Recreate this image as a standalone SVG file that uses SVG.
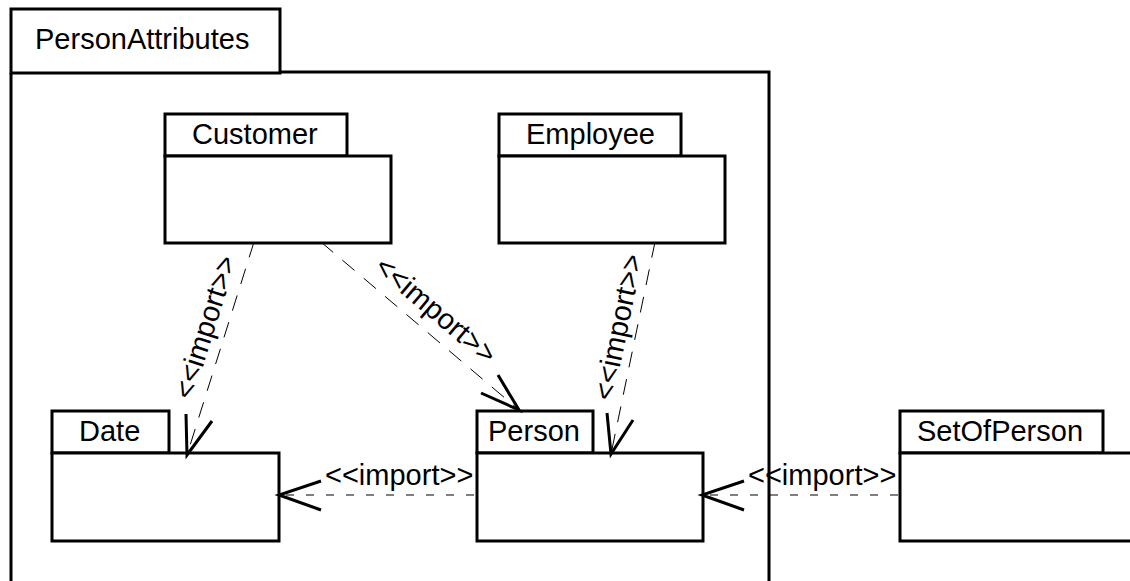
<svg xmlns="http://www.w3.org/2000/svg" width="1130" height="581" viewBox="0 0 1130 581">
<style>
  .box { fill: #ffffff; stroke: #000000; stroke-width: 3; }
  .frame { fill: none; stroke: #000000; stroke-width: 3; }
  .lbl { font-family: "Liberation Sans", Arial, sans-serif; font-size: 29px; fill: #000000; }
  .dash { fill: none; stroke: #000000; stroke-width: 1; stroke-dasharray: 16,12; }
  .hdash { fill: none; stroke: #000000; stroke-width: 1; stroke-dasharray: 8,12; }
  .head { fill: none; stroke: #000000; stroke-width: 3; stroke-linecap: butt; }
</style>
<rect x="0" y="0" width="1130" height="581" fill="#ffffff"/>

<g id="frame-PersonAttributes">
  <rect class="box" x="11" y="9" width="269" height="64"/>
  <path class="frame" d="M11,73 L11,583 M280,72 L769,72 L769,583"/>
  <text class="lbl" x="35" y="49">PersonAttributes</text>
</g>

<g id="node-Customer">
  <rect class="box" x="165" y="114" width="182" height="42"/>
  <rect class="box" x="165" y="156" width="226" height="87"/>
  <text class="lbl" x="192" y="144">Customer</text>
</g>

<g id="node-Employee">
  <rect class="box" x="499" y="114" width="182" height="42"/>
  <rect class="box" x="499" y="156" width="226" height="87"/>
  <text class="lbl" x="526" y="144">Employee</text>
</g>

<g id="node-Date">
  <rect class="box" x="52" y="411" width="117" height="42"/>
  <rect class="box" x="52" y="453" width="227" height="88"/>
  <text class="lbl" x="79" y="441">Date</text>
</g>

<g id="node-Person">
  <rect class="box" x="477" y="411" width="116" height="42"/>
  <rect class="box" x="477" y="453" width="226" height="88"/>
  <text class="lbl" x="488" y="441">Person</text>
</g>

<g id="node-SetOfPerson">
  <rect class="box" x="900" y="411" width="203" height="42"/>
  <rect class="box" x="900" y="453" width="240" height="88"/>
  <text class="lbl" x="917" y="441">SetOfPerson</text>
</g>

<g id="connectors">
  <!-- Customer -> Date -->
  <line class="dash" x1="254" y1="242" x2="187" y2="455"/>
  <path class="head" d="M186,414 L187,455 L212,421"/>
  <text class="lbl" text-anchor="middle" transform="translate(205,327) rotate(-72.5)" x="0" y="10">&lt;&lt;import&gt;&gt;</text>

  <!-- Customer -> Person -->
  <line class="dash" x1="321" y1="242" x2="519" y2="410"/>
  <path class="head" d="M498,375 L519,410 L481,393"/>
  <text class="lbl" text-anchor="middle" transform="translate(436,310) rotate(40.3)" x="0" y="10">&lt;&lt;import&gt;&gt;</text>

  <!-- Employee -> Person -->
  <line class="dash" x1="655" y1="242" x2="611" y2="454"/>
  <path class="head" d="M607,413 L611,454 L633,420"/>
  <text class="lbl" text-anchor="middle" transform="translate(618,327) rotate(-78.3)" x="0" y="10">&lt;&lt;import&gt;&gt;</text>

  <!-- Person -> Date -->
  <line class="hdash" x1="474" y1="495" x2="279" y2="495"/>
  <path class="head" d="M321,481 L279,495 L321,510"/>
  <text class="lbl" x="325" y="485">&lt;&lt;import&gt;&gt;</text>

  <!-- SetOfPerson -> Person -->
  <line class="hdash" x1="898" y1="495" x2="702" y2="495"/>
  <path class="head" d="M744,481 L702,495 L744,510"/>
  <text class="lbl" x="748" y="485">&lt;&lt;import&gt;&gt;</text>
</g>
</svg>
